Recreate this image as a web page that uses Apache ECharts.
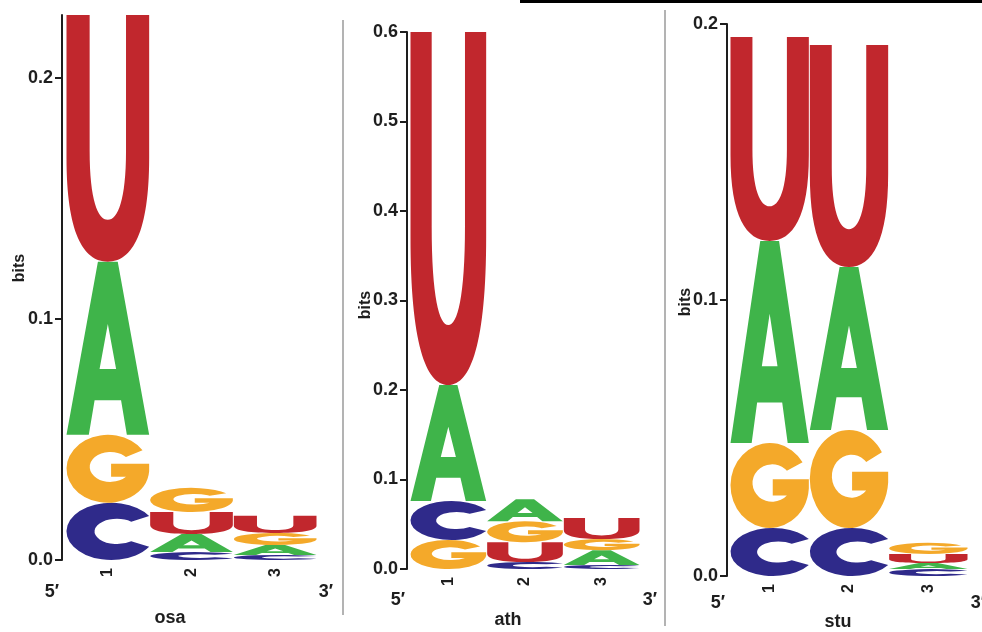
<!DOCTYPE html>
<html>
<head>
<meta charset="utf-8">
<title>Sequence logos</title>
<script src="https://cdn.jsdelivr.net/npm/echarts@6/dist/echarts.min.js"></script>
<style>
  html, body { margin: 0; padding: 0; background: #ffffff; }
  #chart { width: 982px; height: 632px; }
</style>
</head>
<body>
<div id="chart"></div>
<script>
// Nucleotide positions along the x axis
const positions = ['1', '2', '3'];

// Information content (bits) per base, listed bottom-to-top for each position
const osaPos1 = [['C', 0.0237], ['G', 0.0282], ['A', 0.0718], ['U', 0.1023]];
const osaPos2 = [['C', 0.0033], ['A', 0.0075], ['U', 0.0091], ['G', 0.0100]];
const osaPos3 = [['C', 0.0021], ['A', 0.0041], ['G', 0.0050], ['U', 0.0071]];

const athPos1 = [['G', 0.0324], ['C', 0.0436], ['A', 0.1296], ['U', 0.3944]];
const athPos2 = [['C', 0.0078], ['U', 0.0220], ['G', 0.0235], ['A', 0.0245]];
const athPos3 = [['C', 0.0045], ['A', 0.0165], ['G', 0.0125], ['U', 0.0235]];

const stuPos1 = [['C', 0.0174], ['G', 0.0308], ['A', 0.0732], ['U', 0.0739]];
const stuPos2 = [['C', 0.0174], ['G', 0.0355], ['A', 0.0591], ['U', 0.0804]];
const stuPos3 = [['C', 0.0025], ['A', 0.0022], ['U', 0.0033], ['G', 0.0040]];

// Axis ranges and tick values
const osaMax = 0.226, athMax = 0.6, stuMax = 0.2;
const osaTicks = [0, 0.1, 0.2];
const athTicks = [0, 0.1, 0.2, 0.3, 0.4, 0.5, 0.6];
const stuTicks = [0, 0.1, 0.2];

// Panel names
const panelNames = ['osa', 'ath', 'stu'];

// Base order used to encode letters as numbers inside series data
const BASES = ['A', 'C', 'G', 'U'];
const BASE_COLOR = { A: '#3fb44a', C: '#2f2a8a', G: '#f4a92a', U: '#c1272d' };

// Bold sans glyph outlines in a 100x100 box; stretched to each stack cell
const GLYPH = {
  A: 'M0 100 L38 0 L62 0 L100 100 L73 100 L66 80 L34 80 L27 100 Z M40 62 L60 62 L50 36 Z',
  C: 'M92 23 A50 50 0 1 0 92 77 L72 67 A25 22 0 1 1 72 33 Z',
  G: 'M92 23 A50 50 0 1 0 100 54 L100 43 L54 43 L54 62 L72 62 A25 22 0 1 1 72 33 Z',
  U: 'M0 0 L28 0 L28 55 C28 75 38 83 50 83 C62 83 72 75 72 55 L72 0 L100 0 L100 58 C100 88 80 100 50 100 C20 100 0 88 0 58 Z'
};

// Turn per-position stacks into [position, bottom, top, baseIndex] rows
function stackRows(stacks) {
  const rows = [];
  stacks.forEach(function (stack, pi) {
    let acc = 0;
    stack.forEach(function (item) {
      const b = acc, t = acc + item[1];
      rows.push([pi, b, t, BASES.indexOf(item[0])]);
      acc = t;
    });
  });
  return rows;
}

function renderLetter(params, api) {
  const pos = api.value(0);
  const lo = api.coord([pos, api.value(1)]);
  const hi = api.coord([pos, api.value(2)]);
  const bw = api.size([1, 0])[0];
  const base = BASES[api.value(3)];
  const h = lo[1] - hi[1];
  if (h <= 0.2) return null;
  return {
    type: 'path',
    shape: { pathData: GLYPH[base], x: lo[0] - bw / 2 + 0.5, y: hi[1], width: bw - 1, height: h, layout: 'cover' },
    style: { fill: BASE_COLOR[base] }
  };
}

const FONT = 'Liberation Sans, Arial, Helvetica, sans-serif';
const INK = '#1e1e1e';

function xAxisFor(gi) {
  return {
    gridIndex: gi, type: 'category', data: positions, boundaryGap: true,
    axisLine: { show: false }, axisTick: { show: false }, splitLine: { show: false },
    axisLabel: { rotate: 90, margin: 8, fontSize: 16, fontWeight: 'bold', color: INK, fontFamily: FONT }
  };
}

function yAxisFor(gi, max, ticks, offset) {
  return {
    gridIndex: gi, type: 'value', min: 0, max: max, offset: offset,
    splitLine: { show: false },
    axisLine: { show: true, lineStyle: { color: INK, width: 2 } },
    axisTick: { show: true, length: 7, customValues: ticks, lineStyle: { color: INK, width: 2 } },
    axisLabel: {
      customValues: ticks, margin: 9, fontSize: 18, fontWeight: 'bold', color: INK, fontFamily: FONT,
      formatter: function (v) { return v.toFixed(1); }
    }
  };
}

function txt(x, y, s, size, rot) {
  return {
    type: 'text', x: x, y: y, rotation: rot || 0,
    style: { text: s, fontSize: size, fontWeight: 'bold', fill: INK, font: 'bold ' + size + 'px ' + FONT, align: 'center', verticalAlign: 'middle' }
  };
}

const chart = echarts.init(document.getElementById('chart'), null, { renderer: 'canvas' });

chart.setOption({
  animation: false,
  backgroundColor: '#ffffff',
  grid: [
    { left: 66, top: 15, width: 251, height: 545 },
    { left: 410, top: 32, width: 230, height: 537 },
    { left: 730, top: 24, width: 238, height: 552 }
  ],
  xAxis: [xAxisFor(0), xAxisFor(1), xAxisFor(2)],
  yAxis: [
    yAxisFor(0, osaMax, osaTicks, 4),
    yAxisFor(1, athMax, athTicks, 3),
    yAxisFor(2, stuMax, stuTicks, 3)
  ],
  series: [
    { type: 'custom', name: panelNames[0], xAxisIndex: 0, yAxisIndex: 0, renderItem: renderLetter, clip: false,
      encode: { x: 0, y: [1, 2] }, data: stackRows([osaPos1, osaPos2, osaPos3]) },
    { type: 'custom', name: panelNames[1], xAxisIndex: 1, yAxisIndex: 1, renderItem: renderLetter, clip: false,
      encode: { x: 0, y: [1, 2] }, data: stackRows([athPos1, athPos2, athPos3]) },
    { type: 'custom', name: panelNames[2], xAxisIndex: 2, yAxisIndex: 2, renderItem: renderLetter, clip: false,
      encode: { x: 0, y: [1, 2] }, data: stackRows([stuPos1, stuPos2, stuPos3]) }
  ],
  graphic: [
    // panel dividers and top rule
    { type: 'line', shape: { x1: 343, y1: 20, x2: 343, y2: 615 }, style: { stroke: '#9a9a9a', lineWidth: 1.5 } },
    { type: 'line', shape: { x1: 665, y1: 10, x2: 665, y2: 626 }, style: { stroke: '#9a9a9a', lineWidth: 1.5 } },
    { type: 'rect', shape: { x: 520, y: 0, width: 462, height: 3 }, style: { fill: '#000000' } },
    // y-axis names
    txt(20, 268, 'bits', 16, Math.PI / 2),
    txt(366, 305, 'bits', 16, Math.PI / 2),
    txt(686, 302, 'bits', 16, Math.PI / 2),
    // strand ends
    txt(52, 592, '5\u2032', 18), txt(326, 592, '3\u2032', 18),
    txt(398, 600, '5\u2032', 18), txt(650, 600, '3\u2032', 18),
    txt(718, 603, '5\u2032', 18), txt(978, 603, '3\u2032', 18),
    // panel titles
    txt(170, 618, panelNames[0], 18), txt(508, 620, panelNames[1], 18), txt(838, 622, panelNames[2], 18)
  ]
});
</script>
</body>
</html>
